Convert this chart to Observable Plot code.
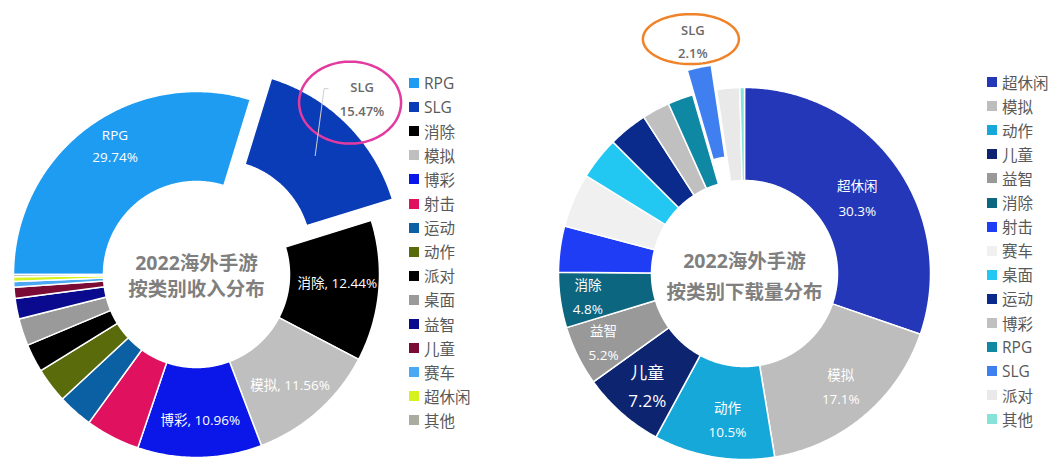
<!DOCTYPE html>
<html><head><meta charset="utf-8">
<script src="https://cdn.jsdelivr.net/npm/d3@7"></script>
<script src="https://cdn.jsdelivr.net/npm/@observablehq/plot@0.6"></script>
<style>
body{margin:0;background:#fff;font-family:"Open Sans","Noto Sans CJK SC",sans-serif;}
#wrap{position:relative;width:1051px;height:459px;overflow:hidden;background:#fff;}
.chart{position:absolute;top:0;}
.chart svg{font-family:"Open Sans","Noto Sans CJK SC",sans-serif;overflow:visible}
.legend{position:absolute;top:0;font-size:15.5px;color:#595959;font-family:"Open Sans","Noto Sans CJK SC",sans-serif;}
.legend .row{position:absolute;left:0;height:20px;display:flex;align-items:center;white-space:nowrap;transform:translateY(-10px)}
.legend .sw{width:10px;height:10px;margin-right:5px;flex:none}
</style></head><body><div id="wrap"></div>
<script>
// ---------- Data: revenue (left) ----------
const revCats = ["RPG","SLG","消除","模拟","博彩","射击","运动","动作","派对","桌面","益智","儿童","赛车","超休闲","其他"];
const revVals = [29.74,15.47,12.44,11.56,10.96,4.8,3.1,3.1,2.5,2.4,1.8,1.0,0.5,0.4,0.2];
const revColors = ["#1e9cf2","#0b3cb8","#000000","#bfbfbf","#0a17e8","#e0115f","#0b5fa3","#5a6b0b","#000000","#9a9a9a","#0a0a8f","#7a0b35","#4ba8f2","#d6f21e","#a9ac9f"];
const revLabeled = ["RPG","消除","模拟","博彩"];
const revTitle = ["2022海外手游","按类别收入分布"];

// ---------- Data: downloads (right) ----------
const dlCats = ["超休闲","模拟","动作","儿童","益智","消除","射击","赛车","桌面","运动","博彩","RPG","SLG","派对","其他"];
const dlVals = [30.3,17.1,10.5,7.2,5.2,4.8,4.0,4.7,3.7,3.4,2.4,2.2,2.1,2.0,0.4];
const dlColors = ["#2437b9","#bdbdbd","#17a8da","#0d2470","#999999","#0d6680","#1f3df5","#f0f0f0","#22c8f2","#0b2b8c","#c0c0c0","#0e88a3","#3f7ff0","#e9e9e9","#86e3d8"];
const dlLabeled = ["超休闲","模拟","动作","儿童","益智","消除"];
const dlTitle = ["2022海外手游","按类别下载量分布"];

const wrap = document.getElementById("wrap");
const rad = d => d * Math.PI / 180;

function donut(o) {
  const total = d3.sum(o.vals);
  let acc = o.start;
  const slices = o.cats.map((c, i) => {
    const a0 = acc, a1 = acc + o.vals[i] / total * 360;
    acc = a1;
    const mid = (a0 + a1) / 2;
    const off = c === o.explode ? o.explodeBy : 0;
    return {name: c, value: o.vals[i], a0, a1, mid, ox: off * Math.sin(rad(mid)), oy: off * Math.cos(rad(mid))};
  });
  const poly = [];
  for (const s of slices) {
    const n = Math.max(2, Math.ceil((s.a1 - s.a0) / 0.5));
    for (let k = 0; k <= n; k++) {
      const t = rad(s.a0 + (s.a1 - s.a0) * k / n);
      poly.push({name: s.name, x: o.R * Math.sin(t) + s.ox, y: o.R * Math.cos(t) + s.oy});
    }
    for (let k = n; k >= 0; k--) {
      const t = rad(s.a0 + (s.a1 - s.a0) * k / n);
      poly.push({name: s.name, x: o.r * Math.sin(t) + s.ox, y: o.r * Math.cos(t) + s.oy});
    }
  }
  const inLabels = slices.filter(s => o.labeled.includes(s.name)).map(s => {
    const [lr, da] = o.labelPos[s.name] || [o.labelR, 0];
    return {
      x: lr * Math.sin(rad(s.mid + da)) + s.ox,
      y: lr * Math.cos(rad(s.mid + da)) + s.oy,
      text: o.fmt(s),
      big: (o.big || []).includes(s.name)
    };
  });
  const ex = slices.find(s => s.name === o.explode);
  const exLabel = {x: o.outR * Math.sin(rad(ex.mid + o.outDA)), y: o.outR * Math.cos(rad(ex.mid + o.outDA)), text: ex.name + "\n" + ex.value + "%"};
  const ell = d3.range(0, 361, 4).map(d => ({x: exLabel.x + o.ellDx + o.ellRx * Math.cos(rad(d)), y: exLabel.y + o.ellDy + o.ellRy * Math.sin(rad(d))}));
  const marks = [
    Plot.line(poly, {x: "x", y: "y", z: "name", fill: "name", stroke: "white", strokeWidth: 1.5, curve: "linear-closed"}),
    Plot.text(inLabels.filter(d => !d.big), {x: "x", y: "y", text: "text", fill: "white", fontSize: o.labelFS, lineHeight: o.lineH}),
    Plot.text(inLabels.filter(d => d.big), {x: "x", y: "y", text: "text", fill: "white", fontSize: 17, lineHeight: 1.7}),
    Plot.text([exLabel], {x: "x", y: "y", text: "text", fill: "#6a6a6a", fontSize: 13, fontWeight: 600, lineHeight: 1.8}),
    Plot.line(ell, {x: "x", y: "y", stroke: o.ellColor, strokeWidth: 2.5, curve: "linear-closed"}),
    Plot.text([o.title.join("\n")], {x: () => 0, y: () => 0, text: d => d, fill: "#7f7f7f", fontSize: 19.5, fontWeight: "bold", lineHeight: o.titleLH})
  ];
  if (o.leader) {
    const cR = (o.R + o.r) / 2;
    const top = {x: exLabel.x + o.leader[0], y: exLabel.y + o.leader[1]};
    const pts = [
      {x: top.x + 4, y: top.y},
      top,
      {x: cR * Math.sin(rad(ex.mid)) + ex.ox, y: cR * Math.cos(rad(ex.mid)) + ex.oy}
    ];
    marks.push(Plot.line(pts, {x: "x", y: "y", stroke: "#d0d0d0", strokeWidth: 1}));
  }
  const plot = Plot.plot({
    width: o.W, height: o.H, margin: 0,
    x: {domain: [-o.cx, o.W - o.cx], axis: null},
    y: {domain: [-(o.H - o.cy), o.cy], axis: null},
    color: {domain: o.cats, range: o.colors},
    style: {background: "transparent"},
    marks
  });
  const div = document.createElement("div");
  div.className = "chart";
  div.style.left = o.left + "px";
  div.appendChild(plot);
  wrap.appendChild(div);
}

function legend(cats, colors, left, top0, step) {
  const lg = document.createElement("div");
  lg.className = "legend";
  lg.style.left = left + "px";
  cats.forEach((c, i) => {
    const row = document.createElement("div");
    row.className = "row";
    row.style.top = (top0 + i * step) + "px";
    const sw = document.createElement("div");
    sw.className = "sw";
    sw.style.background = colors[i];
    row.appendChild(sw);
    row.appendChild(document.createTextNode(c));
    lg.appendChild(row);
  });
  wrap.appendChild(lg);
}

donut({
  cats: revCats, vals: revVals, colors: revColors, labeled: revLabeled, title: revTitle,
  start: 270, left: 0, W: 405, H: 459, cx: 196, cy: 274, R: 183, r: 93,
  explode: "SLG", explodeBy: 30, labelR: 142,
  labelPos: {"RPG": [154, 4.5], "消除": [141, -2.7], "模拟": [143, 0.7], "博彩": [144, -0.5]},
  fmt: s => s.name === "RPG" ? s.name + "\n" + s.value + "%" : s.name + ", " + s.value + "%",
  labelFS: 13.5, lineH: 1.6, outR: 243, outDA: -2, ellDx: -12, ellDy: -6, ellRx: 51, ellRy: 41, ellColor: "#e33aa0",
  leader: [-38, 8], titleLH: 1.32
});
donut({
  cats: dlCats, vals: dlVals, colors: dlColors, labeled: dlLabeled, title: dlTitle, big: ["儿童"],
  start: 0, left: 540, W: 420, H: 459, cx: 204, cy: 273, R: 186, r: 93,
  explode: "SLG", explodeBy: 25, labelR: 150,
  labelPos: {"超休闲": [137, 0.9], "模拟": [147, -0.8], "动作": [145, -2.8], "儿童": [147, 0], "益智": [156, 0.9], "消除": [158, 0.7]},
  fmt: s => s.name + "\n" + s.value + "%",
  labelFS: 13.5, lineH: 1.8, outR: 240, outDA: 0, ellDx: -2, ellDy: 0, ellRx: 48, ellRy: 25, ellColor: "#f08228",
  leader: null, titleLH: 1.62
});
legend(revCats, revColors, 409, 83, 24.1);
legend(dlCats, dlColors, 987, 82, 24.1);
</script></body></html>
